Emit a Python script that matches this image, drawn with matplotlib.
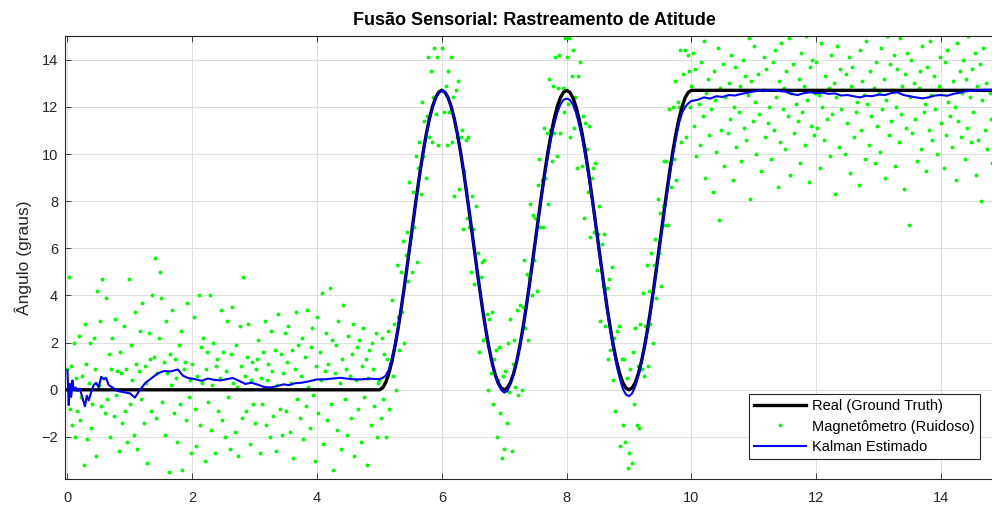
import numpy as np
import matplotlib
matplotlib.use("Agg")
import matplotlib.pyplot as plt

plt.rcParams['font.family'] = ['Liberation Sans', 'DejaVu Sans']

# ground truth (graus)
truth_t = np.concatenate([[0.0], np.round(np.arange(5.0, 10.001, 0.05), 2), [15.0]])
truth_y = [0.0,
           0.00, 0.08, 0.31, 0.69, 1.21, 1.86, 2.62, 3.47, 4.39, 5.36, 6.35,
           7.34, 8.31, 9.23, 10.08, 10.84, 11.49, 12.01, 12.39, 12.62, 12.70,
           12.62, 12.39, 12.01, 11.49, 10.84, 10.08, 9.23, 8.31, 7.34, 6.35,
           5.36, 4.39, 3.47, 2.62, 1.86, 1.21, 0.69, 0.31, 0.08, 0.00,
           0.08, 0.31, 0.69, 1.21, 1.86, 2.62, 3.47, 4.39, 5.36, 6.35,
           7.34, 8.31, 9.23, 10.08, 10.84, 11.49, 12.01, 12.39, 12.62, 12.70,
           12.62, 12.39, 12.01, 11.49, 10.84, 10.08, 9.23, 8.31, 7.34, 6.35,
           5.36, 4.39, 3.47, 2.62, 1.86, 1.21, 0.69, 0.31, 0.08, 0.00,
           0.08, 0.31, 0.69, 1.21, 1.86, 2.62, 3.47, 4.39, 5.36, 6.35,
           7.34, 8.31, 9.23, 10.08, 10.84, 11.49, 12.01, 12.39, 12.62, 12.70,
           12.70]

# magnetometro: uma leitura a cada 0.02 s
mag_y = [
    # 0 - 5 s
    0.9, 4.8, -0.8, 1.0, -1.5, 2.0, -2.0, 0.5, -0.9, 2.3, -1.3, -0.3, 0.6, -3.2, 2.8, 1.1, -2.1, 0.3, 2.0, -1.6, -0.6, 2.2, 0.9, -2.8, 4.2,
    0.2, 2.9, -0.7, 4.7, 0.5, -1.0, 3.9, -0.4, 1.5, -2.0, 0.9, 2.2, -1.1, 3.0, -0.2, 0.8, -2.6, 1.6, 0.7, -1.4, 2.7, -0.9, 0.9, -2.2, 4.7,
    -0.6, 1.9, 0.4, -1.9, 3.3, 1.1, -2.5, 0.8, 2.5, -0.4, 3.7, -1.4, 1.0, 0.3, -3.1, 2.4, 1.3, -0.9, 4.0, 1.4, 5.6, -1.2, 0.7, 2.2, 5.0,
    3.9, -0.5, 1.2, -1.9, 2.9, 0.7, -3.5, 1.5, 0.2, 3.4, -1.0, 1.3, 0.5, -2.2, 1.9, -0.6, 2.5, -3.4, 0.9, 1.2, -1.3, 3.7, -0.3, 0.4, -2.7,
    1.1, 3.1, -0.8, -2.4, 0.6, 4.0, -1.5, 1.8, 0.3, 2.2, -3.0, 0.9, 1.6, -0.5, 4.0, -1.7, 0.2, 2.0, -2.7, 1.0, 1.3, -0.9, 0.5, 3.4, -1.3,
    1.6, -2.0, 0.8, 2.9, -0.3, -2.5, 1.5, 3.5, 0.3, -1.8, 1.9, 0.1, -2.8, 2.7, 1.0, -1.2, 4.8, 0.6, -0.9, 1.4, 2.8, -2.3, 0.4, 1.2, -0.6,
    -1.4, 0.9, 1.3, 2.1, -2.7, 0.5, -0.6, 1.6, 2.9, -1.5, 0.4, 1.1, -2.0, 2.5, 0.8, -1.1, 1.7, -2.6, 0.2, 3.2, -0.8, 1.5, -1.9, 0.7, 2.4,
    -0.9, 1.2, 2.7, -1.8, 0.3, 1.7, -2.9, 0.9, 3.3, -0.4, 1.9, -1.2, 0.6, 2.2, -2.1, 1.4, -0.7, 3.4, 0.1, -1.6, 1.8, 2.6, -0.2, -3.0, 1.0,
    3.1, -1.0, 1.6, 0.4, 4.1, -2.3, 0.8, 2.4, -1.3, 1.1, 4.3, -0.6, 2.1, -3.4, 0.7, 1.9, -1.7, 2.9, 0.3, -2.5, 1.3, 3.6, -0.4, 0.9, -1.9,
    2.3, 0.6, -1.2, 1.5, 2.8, -2.8, 0.4, 1.8, -0.8, 2.1, -2.2, 1.0, 2.6, -0.3, 1.3, -3.2, 0.5, 1.7, -1.5, 2.0, 0.9, -0.7, 2.4, -2.0, 0.3,
    # 5 - 6 s
    0.4, -1.2, 2.2, -0.4, 1.5, -2.0, 1.3, 2.5, -0.8, 1.2, 3.8, 0.6, 2.8, 0.0, 5.3, 3.1, 1.7, 5.0, 3.3, 6.3, 2.0, 5.7, 6.7, 4.6, 8.8,
    6.5, 5.0, 8.4, 6.9, 9.9, 5.4, 9.4, 10.5, 8.3, 12.2, 9.9, 11.4, 9.0, 11.6, 14.1, 10.7, 13.5, 10.5, 12.4, 14.5, 11.7, 14.1, 10.4, 15.2, 12.7,
    # 6 - 7 s
    14.5, 15.3, 11.8, 12.9, 10.4, 13.5, 11.8, 14.1, 10.5, 12.4, 8.2, 12.7, 10.7, 13.1, 8.5, 10.7, 11.0, 6.8, 9.3, 10.6, 7.3, 10.7, 6.9, 5.0, 8.2,
    6.8, 4.5, 7.8, 5.0, 5.8, 1.6, 4.8, 5.4, 2.1, 5.5, 2.2, 3.2, 0.0, 3.0, 0.7, 3.3, -0.6, 1.3, 1.7, -2.0, 0.4, 1.8, -1.0, -2.9, 0.6,
    # 7 - 8 s
    -2.5, 0.8, -1.4, 2.0, -0.1, 3.0, -2.6, 1.1, 2.1, 0.1, 3.4, -0.2, 1.8, 3.6, 0.0, 3.5, 5.5, 2.6, 4.9, 2.1, 4.8, 7.9, 4.0, 7.4, 5.5,
    7.3, 4.2, 8.7, 9.8, 6.9, 8.9, 6.9, 11.1, 9.0, 10.9, 7.9, 13.2, 11.0, 9.7, 12.9, 10.9, 14.1, 9.9, 12.8, 14.2, 10.9, 15.1, 12.8, 11.8, 14.9,
    # 8 - 9 s
    14.1, 12.1, 14.9, 10.7, 13.3, 14.4, 11.1, 12.4, 9.4, 13.3, 11.3, 13.9, 9.5, 11.6, 7.3, 11.3, 10.2, 8.4, 11.2, 6.5, 9.0, 9.4, 6.7, 9.6, 5.1,
    6.6, 7.8, 2.9, 6.2, 4.4, 6.6, 2.7, 4.3, 1.3, 4.7, 1.7, 5.2, 0.4, 2.2, -0.9, 2.5, 0.9, 2.7, -2.4, 1.3, -1.5, 1.3, -2.2, 0.5, -3.3,
    # 9 - 10 s
    -2.7, 0.9, -3.1, 1.6, -0.6, 2.6, -1.5, 1.0, -1.6, 2.8, 0.9, 4.1, 0.6, 2.7, 5.3, 1.0, 4.2, 2.8, 5.8, 2.0, 5.3, 6.4, 3.9, 8.1, 5.8,
    7.5, 4.4, 7.8, 9.7, 7.0, 9.7, 7.0, 11.9, 9.6, 8.6, 12.0, 9.8, 13.1, 8.9, 12.2, 12.0, 14.4, 10.5, 13.4, 12.0, 14.4, 10.7, 14.2, 13.5, 12.0,
    # 10 - 15 s
    12.9, 14.3, 11.2, 13.6, 9.9, 15.4, 12.1, 10.4, 13.9, 11.6, 14.8, 9.0, 12.6, 13.2, 10.8, 15.6, 11.9, 8.4, 13.5, 12.3, 10.1, 14.5, 7.2, 12.8, 11.0,
    13.8, 9.5, 12.4, 15.2, 10.9, 13.0, 11.5, 14.2, 8.9, 12.0, 13.7, 10.3, 15.8, 11.8, 12.9, 9.7, 14.0, 11.1, 13.3, 10.6, 12.5, 14.9, 8.1, 13.1, 11.4,
    14.6, 12.2, 10.0, 13.4, 11.7, 15.3, 9.3, 12.7, 14.1, 10.7, 13.6, 11.3, 12.0, 15.1, 9.8, 13.9, 11.0, 14.4, 12.4, 8.6, 13.1, 10.5, 14.7, 11.9, 12.8,
    10.2, 13.5, 11.6, 14.9, 9.1, 12.6, 13.8, 10.9, 15.5, 12.1, 11.4, 13.2, 9.6, 14.3, 11.8, 12.9, 10.4, 15.0, 12.3, 8.8, 13.7, 11.2, 14.0, 10.8, 12.6,
    13.9, 11.1, 12.5, 9.4, 14.7, 12.0, 10.6, 13.3, 15.2, 11.5, 12.8, 9.9, 14.2, 11.7, 13.0, 8.3, 12.4, 14.6, 10.3, 13.6, 11.9, 12.7, 15.7, 10.0, 13.4,
    11.3, 14.1, 9.2, 12.9, 13.7, 10.7, 15.1, 11.8, 12.2, 8.7, 14.4, 11.0, 13.1, 12.5, 9.8, 14.8, 12.1, 10.4, 13.5, 11.6, 15.3, 12.8, 9.6, 13.9, 11.2,
    12.6, 10.1, 14.5, 11.9, 13.2, 9.0, 12.3, 15.0, 10.8, 13.8, 11.4, 12.7, 14.2, 9.5, 12.0, 13.6, 10.5, 14.9, 11.7, 12.9, 8.5, 13.4, 11.1, 14.3, 7.0,
    12.4, 14.0, 10.9, 13.0, 11.5, 15.4, 9.7, 12.8, 13.5, 10.2, 14.6, 11.8, 12.1, 9.3, 13.7, 11.0, 14.8, 12.5, 10.6, 13.3, 11.9, 15.2, 10.0, 12.9, 14.1,
    11.3, 12.7, 9.4, 13.9, 10.8, 14.4, 12.2, 11.6, 15.6, 10.3, 13.1, 12.0, 8.9, 14.7, 11.4, 13.5, 10.7, 12.6, 14.0, 9.8, 13.2, 11.1, 15.0, 12.4, 10.5,
    13.6, 11.8, 14.3, 9.1, 12.9, 10.6, 13.8, 8.0, 12.3, 14.5, 11.0, 13.0, 10.2, 15.1, 12.6, 11.5, 9.6, 13.7, 12.1, 14.8, 10.9, 13.3, 11.7, 8.2, 12.8,
]
mag_t = np.arange(len(mag_y)) * 0.02

# estimativa do filtro de Kalman
kalman_t = [0.00, 0.02, 0.04, 0.06, 0.08, 0.10, 0.13, 0.16, 0.20, 0.24, 0.28, 0.31, 0.34, 0.38,
            0.42, 0.46, 0.50, 0.54, 0.58, 0.62, 0.66, 0.72, 0.80, 0.90, 1.00, 1.08, 1.15, 1.25,
            1.35, 1.45, 1.55, 1.65, 1.77, 1.85, 1.93, 2.05, 2.15, 2.25, 2.35, 2.45, 2.55, 2.65,
            2.75, 2.85, 2.95, 3.05, 3.15, 3.25, 3.35, 3.46, 3.55, 3.65, 3.75, 3.85, 4.00, 4.15,
            4.37, 4.55, 4.70, 4.85, 5.00,
            5.05, 5.10, 5.15, 5.20, 5.25, 5.30, 5.35, 5.40, 5.45, 5.50, 5.55, 5.60, 5.65, 5.70,
            5.75, 5.80, 5.85, 5.90, 5.95, 6.00, 6.05, 6.10, 6.15, 6.20, 6.25, 6.30, 6.35, 6.40,
            6.45, 6.50, 6.55, 6.60, 6.65, 6.70, 6.75, 6.80, 6.85, 6.90, 6.95, 7.00, 7.05, 7.10,
            7.15, 7.20, 7.25, 7.30, 7.35, 7.40, 7.45, 7.50, 7.55, 7.60, 7.65, 7.70, 7.75, 7.80,
            7.85, 7.90, 7.95, 8.00, 8.05, 8.10, 8.15, 8.20, 8.25, 8.30, 8.35, 8.40, 8.45, 8.50,
            8.55, 8.60, 8.65, 8.70, 8.75, 8.80, 8.85, 8.90, 8.95, 9.00, 9.05, 9.10, 9.15, 9.20,
            9.25, 9.30, 9.35, 9.40, 9.45, 9.50, 9.55, 9.60, 9.65, 9.70, 9.75, 9.80, 9.85, 9.90,
            9.95, 10.00,
            10.1, 10.2, 10.3, 10.4, 10.5, 10.6, 10.7, 10.8, 10.9, 11.0, 11.1, 11.2, 11.3, 11.4,
            11.5, 11.6, 11.7, 11.8, 11.9, 12.0, 12.1, 12.2, 12.3, 12.4, 12.5, 12.6, 12.7, 12.8,
            12.9, 13.0, 13.1, 13.2, 13.3, 13.4, 13.5, 13.6, 13.7, 13.8, 13.9, 14.0, 14.1, 14.2,
            14.3, 14.4, 14.5, 14.6, 14.7, 14.8, 14.9, 15.0]
kalman_y = [0.83, -0.65, 0.25, -0.3, 0.4, 0.0, 0.1, -0.05, 0.05, -0.35, -0.7, -0.25, -0.45, -0.1,
            0.2, 0.3, 0.1, 0.55, 0.45, 0.5, 0.2, 0.1, -0.05, -0.1, -0.15, -0.33, -0.05, 0.3,
            0.5, 0.7, 0.8, 0.78, 0.86, 0.6, 0.5, 0.45, 0.38, 0.48, 0.42, 0.4, 0.45, 0.5,
            0.38, 0.25, 0.3, 0.22, 0.12, 0.1, 0.15, 0.23, 0.2, 0.28, 0.3, 0.35, 0.44, 0.45,
            0.51, 0.45, 0.44, 0.47, 0.45,
            0.5, 0.6, 0.85, 1.35, 1.95, 2.65, 3.5, 4.4, 5.35, 6.35, 7.3, 8.3, 9.2, 10.05,
            10.8, 11.45, 11.95, 12.35, 12.6, 12.7, 12.62, 12.4, 12.0, 11.5, 10.85, 10.1, 9.25, 8.3,
            7.35, 6.35, 5.35, 4.4, 3.45, 2.6, 1.85, 1.2, 0.65, 0.25, 0.0, -0.12, -0.05, 0.25,
            0.65, 1.2, 1.85, 2.6, 3.45, 4.35, 5.3, 6.3, 7.25, 8.2, 9.1, 9.9, 10.65, 11.25,
            11.75, 12.1, 12.3, 12.35, 12.3, 12.1, 11.75, 11.25, 10.65, 9.9, 9.1, 8.2, 7.25, 6.25,
            5.25, 4.3, 3.35, 2.5, 1.7, 1.05, 0.5, 0.05, -0.2, -0.27, -0.15, 0.15, 0.6, 1.15,
            1.8, 2.55, 3.4, 4.3, 5.25, 6.25, 7.2, 8.15, 9.05, 9.9, 10.65, 11.3, 11.75, 12.0,
            12.15, 12.25,
            12.3, 12.4, 12.35, 12.45, 12.42, 12.5, 12.48, 12.55, 12.6, 12.65, 12.7, 12.68, 12.72, 12.67,
            12.65, 12.55, 12.5, 12.58, 12.62, 12.58, 12.6, 12.55, 12.57, 12.48, 12.5, 12.45, 12.4, 12.47,
            12.45, 12.52, 12.5, 12.58, 12.62, 12.5, 12.45, 12.4, 12.36, 12.4, 12.48, 12.5, 12.47, 12.55,
            12.6, 12.66, 12.68, 12.7, 12.72, 12.72, 12.73, 12.73]

fig = plt.figure(figsize=(9.92, 5.07), dpi=100)
ax = fig.add_axes([0.0655, 0.0558, 0.946, 0.873])

ax.plot(truth_t, truth_y, color='black', linewidth=2.4, label='Real (Ground Truth)', zorder=3)
ax.plot(mag_t, mag_y, '.', color=(0, 1, 0), markersize=3.6, label='Magnetômetro (Ruidoso)', zorder=2)
ax.plot(kalman_t, kalman_y, color=(0, 0, 1), linewidth=1.5, label='Kalman Estimado', zorder=4)

ax.set_xlim(-0.04, 15)
ax.set_ylim(-3.77, 15)
ax.set_xticks(range(0, 16, 2))
ax.set_yticks(range(-2, 15, 2))

ax.grid(True, color='#dedede', linewidth=0.7)
ax.set_axisbelow(True)
for s in ax.spines.values():
    s.set_color('#262626')
    s.set_linewidth(0.8)
ax.tick_params(direction='in', top=True, right=True, length=4, width=0.6,
               color='#262626', labelcolor='#262626', labelsize=10.5)
ax.tick_params(axis='x', pad=9)
ax.tick_params(axis='y', pad=5)

ax.set_title('Fusão Sensorial: Rastreamento de Atitude', fontsize=13, fontweight='bold', pad=8)
ax.set_ylabel('Ângulo (graus)', fontsize=12.5, color='#262626')
ax.yaxis.set_label_coords(-0.035, 0.5)

leg = ax.legend(loc='lower right', bbox_to_anchor=(0.975, 0.044), borderaxespad=0,
                fontsize=10.5, handlelength=3.6, labelspacing=0.45, fancybox=False,
                framealpha=1, edgecolor='#262626', borderpad=0.35, handletextpad=0.4)
leg.get_frame().set_linewidth(0.8)

fig.savefig('out.png', dpi=100)
